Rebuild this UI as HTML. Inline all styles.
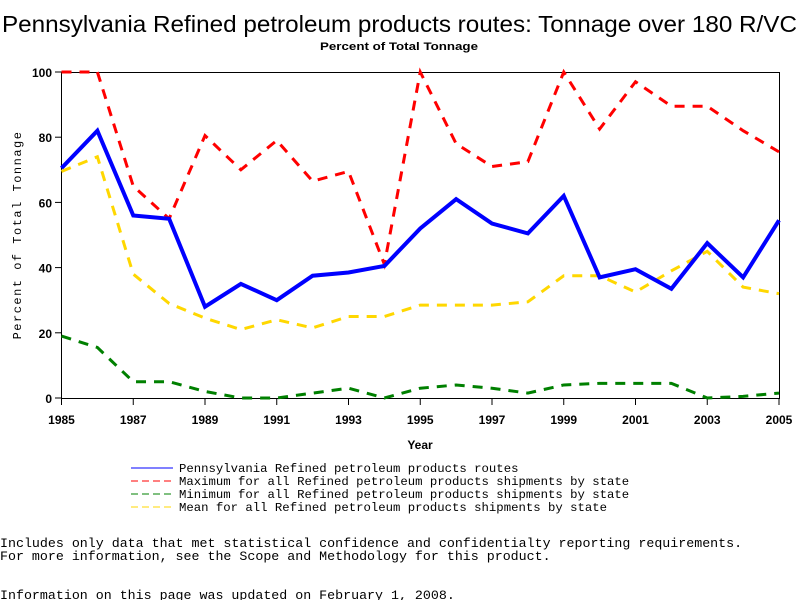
<!DOCTYPE html>
<html><head><meta charset="utf-8"><style>
body{margin:0;background:#fff;width:800px;height:600px;overflow:hidden;position:relative}
svg{position:absolute;left:0;top:0}
</style></head><body>
<svg id="chart" width="800" height="600">
<text x="2" y="32" textLength="795" lengthAdjust="spacingAndGlyphs" font-family="Liberation Sans, sans-serif" font-size="23">Pennsylvania Refined petroleum products routes: Tonnage over 180 R/VC</text>
<text x="320" y="50" textLength="158" lengthAdjust="spacingAndGlyphs" font-family="Liberation Sans, sans-serif" font-size="11" font-weight="bold">Percent of Total Tonnage</text>
<rect x="61.5" y="72.5" width="718" height="326" fill="none" stroke="#000" stroke-width="1"/>
<g id="ticks"></g>
<g id="series"></g>
<text x="420" y="449" text-anchor="middle" font-family="Liberation Sans, sans-serif" font-size="12" font-weight="bold">Year</text>
<text transform="translate(21,235) rotate(-90)" text-anchor="middle" font-family="Liberation Mono, monospace" font-size="12" letter-spacing="1.5">Percent of Total Tonnage</text>
<g id="legend" font-family="Liberation Mono, monospace" font-size="12.3"></g>
<g font-family="Liberation Mono, monospace" font-size="13.3">
<text x="0" y="547">Includes only data that met statistical confidence and confidentialty reporting requirements.</text>
<text x="0" y="560">For more information, see the Scope and Methodology for this product.</text>
<text x="0" y="599">Information on this page was updated on February 1, 2008.</text>
</g>
</svg>
<script>
const years=[1985,1986,1987,1988,1989,1990,1991,1992,1993,1994,1995,1996,1997,1998,1999,2000,2001,2002,2003,2004,2005];
const stateValues=[70.5,82,56,55,28,35,30,37.5,38.5,40.5,52,61,53.5,50.5,62,37,39.5,33.5,47.5,37,54.5];
const maxValues=[100,100,65,55,80.5,70,79,66.5,69.5,41,100,78,71,72.5,100,82.5,97,89.5,89.5,82,75.5];
const minValues=[19,15.5,5,5,2,0,0,1.5,3,0,3,4,3,1.5,4,4.5,4.5,4.5,0,0.5,1.5];
const meanValues=[69.5,74,38,29,24.5,21,24,21.5,25,25,28.5,28.5,28.5,29.5,37.5,37.5,32.5,39,45,34,32];
const xTicks=[1985,1987,1989,1991,1993,1995,1997,1999,2001,2003,2005];
const yTicks=[0,20,40,60,80,100];
const legendLabels=["Pennsylvania Refined petroleum products routes","Maximum for all Refined petroleum products shipments by state","Minimum for all Refined petroleum products shipments by state","Mean for all Refined petroleum products shipments by state"];
const NS="http://www.w3.org/2000/svg";
const X=y=>61.5+(y-1985)*(779-61.5)/20;
const Y=v=>398-v*3.26;
function mk(t,a,p){const e=document.createElementNS(NS,t);for(const k in a)e.setAttribute(k,a[k]);p.appendChild(e);return e;}
const tg=document.getElementById('ticks');
xTicks.forEach(t=>{
 const l=mk('line',{x1:X(t),x2:X(t),y1:398,y2:405,stroke:'#000'},tg);
 
 
 const tx=mk('text',{x:X(t),y:424,'text-anchor':'middle','font-family':'Liberation Sans, sans-serif','font-size':'12','font-weight':'bold'},tg);
 tx.textContent=t;
 
 
});
yTicks.forEach(t=>{
 const l=mk('line',{x1:55,x2:61.5,y1:Y(t),y2:Y(t),stroke:'#000'},tg);
 
 
 const tx=mk('text',{x:52,y:Y(t)+5,'text-anchor':'end','font-family':'Liberation Sans, sans-serif','font-size':'12','font-weight':'bold'},tg);
 tx.textContent=t;
 
 
});
const sg=document.getElementById('series');
const series=[[minValues,'#008000','10,8',3,'min-line'],[meanValues,'#ffd700','10,8',3,'mean-line'],[maxValues,'#ff0000','10,8',3,'max-line'],[stateValues,'#0000ff','',4,'state-line']];
series.forEach(s=>{
 const pts=years.map((y,i)=>X(y)+','+Y(s[0][i])).join(' ');
 const p=mk('polyline',{points:pts,fill:'none',stroke:s[1],'stroke-width':s[3],'stroke-dasharray':s[2]||'none'},sg);
 
 
});
const lg=document.getElementById('legend');
const lc=[['#0000ff',''],['#ff0000','7,4'],['#008000','7,4'],['#ffd700','7,4']];
legendLabels.forEach((t,i)=>{
 const y=468+i*13;
 const l=mk('line',{x1:131,x2:173,y1:y,y2:y,stroke:lc[i][0],'stroke-width':1,'stroke-dasharray':lc[i][1]||'none'},lg);
 
 
 const tx=mk('text',{x:179,y:y+4},lg);
 tx.textContent=t;
 
 
});
</script>
</body></html>
